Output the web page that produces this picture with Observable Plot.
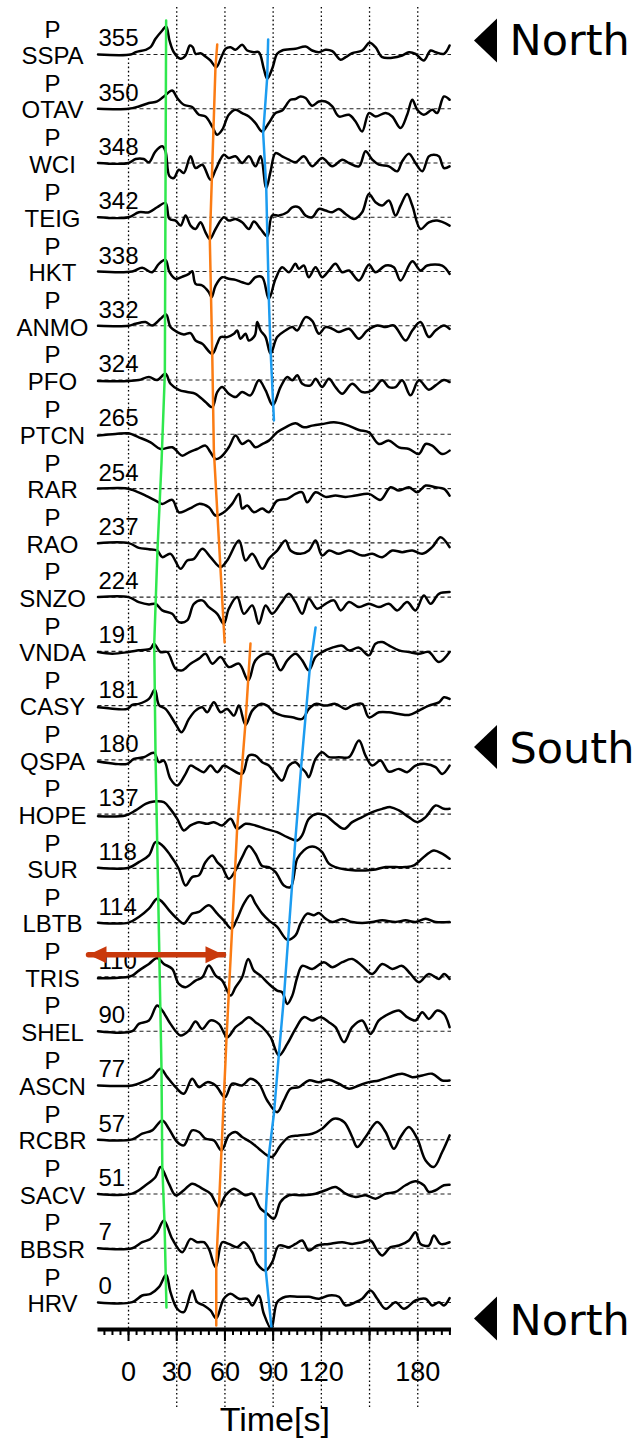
<!DOCTYPE html>
<html>
<head>
<meta charset="utf-8">
<script src="https://cdn.jsdelivr.net/npm/d3@7"></script>
<script src="https://cdn.jsdelivr.net/npm/@observablehq/plot@0.6"></script>
<style>
  html, body { margin: 0; padding: 0; background: #fff; }
  #chart svg { display: block; overflow: visible; }
</style>
</head>
<body>
<div id="chart"></div>
<script>
// ---------- data ----------
const stations = ["SSPA","OTAV","WCI","TEIG","HKT","ANMO","PFO","PTCN","RAR","RAO","SNZO","VNDA","CASY","QSPA","HOPE","SUR","LBTB","TRIS","SHEL","ASCN","RCBR","SACV","BBSR","HRV"];
const azimuths = [355,350,348,342,338,332,324,265,254,237,224,191,181,180,137,118,114,110,90,77,57,51,7,0];
const tickLabels = [0,30,60,90,120,180];
const majorTicks = [0,30,60,90,120,150,180];
const gridTimes = [30,60,90,120,150,180];

// traces: flat [time(s), amplitude, time, amplitude, ...]
const trSSPA = [-19,0,1.2,0,4.4,2.3,10.6,4.7,13.7,7.3,16.8,15.7,21,24,23.4,28,25.5,14,28.2,2.3,32.4,-4.3,35.5,-1,38.2,9,40,7.3,41.7,0.7,44.8,1.3,47.9,-2,51,-6,54.6,-12.7,57.9,-2,60.4,5.7,63.5,7.3,66.6,4.7,70.7,9.7,73.9,4,78,2.3,81.1,2.3,84.2,-14.3,86.3,-24.3,89.4,-14.3,92.5,0.7,95.6,4,103.9,5.7,110.2,8,114.3,4,118.5,2.3,122.6,4.7,126.8,3.3,132,-5.3,135.1,-2.7,139.2,1.3,145.4,4,150,11.7,153.7,7.3,157.9,-2.7,164.1,-3.3,170.3,-1,174.5,2.3,178.6,0.7,183.8,-6,188,4,191.1,2.3,196.3,0.7,199.8,9];
const trOTAV = [-19,0,0,0,6.4,2.3,12.7,5.7,17.8,7.3,22,12.3,27.2,18.3,30.3,10.7,34.4,4,39.6,1.7,43.8,-6,47.9,-7.7,52.1,-17.7,55.2,-26,58.3,-21,62.4,-6,66.6,-1,70.7,-4.3,74.9,-7.7,79,-14.3,83.2,-22.7,87.3,-14.3,91.5,-4.3,95.6,-1.7,100.8,9,103.9,9.7,107,12.3,110.2,10.7,114.3,3,118.5,7.3,122.6,7.3,126.8,2.3,130.9,-7.7,137.2,-6,141.3,-12.7,145.4,-22.7,149.6,-4.3,153.7,-7.7,160,-4.3,164.1,-7.7,169.3,-19.3,173.4,-6,176.6,9,179.7,-1,183.8,-6,189,-1,192.1,-4.3,196.3,12.3,199.8,9];
const trWCI = [-19,0,0,0,4.4,4,9.5,4,12.7,0.7,16.8,11.7,21,16.7,23,11.7,25.5,-13.3,28.2,-15,31.3,-6.7,34.4,-10,38.6,6.7,41.7,-5,45.9,-1.7,51,-16.7,54.2,-6.7,59.3,8.3,62.4,5,66.6,6.7,70.7,0,74.9,6.7,79,-3.3,82.2,6.7,85.7,-25,88.4,-8.3,91.5,10,95.6,6.7,99.8,3.3,103.9,0.7,109.1,6.7,114.3,-3.3,120.5,5,126.8,-3.3,133,3.3,137.2,0,143.4,-3.3,147.5,11.7,151.7,3.3,155.8,-1.7,162,-3.3,167.2,-8.3,170.3,1.7,174.5,9.3,178.6,0,182.8,-8.3,186.9,6.7,190,8.3,193.2,6.7,196.3,-5,199.8,-3.3];
const trTEIG = [-19,0,0,0,6.4,5,12.7,5,17.8,10,23,14.3,25.5,-1.7,29.3,-3.3,32.4,-8.3,35.5,1.7,38.6,-8.3,41.7,-11.7,44.8,-5,47.9,-15,50.6,-21.7,54.2,-11.7,59.3,0,62.4,-3.3,66.6,-1.7,70.7,-5,74.9,-11.7,78,-4.3,82.2,-11.7,86.3,-19,89.4,1.7,93.6,1.7,98.8,5,101.9,10,106,10,110.2,1.7,114.3,0,118.5,8.3,122.6,6.7,126.8,5,130.9,8.3,135.1,3.3,140.3,-1.7,145.4,5,149.6,23.3,153.7,15,157.9,11.7,162,16.7,166.2,1.7,169.3,11.7,173.4,23.3,176.6,11.7,181.7,-11.7,186.9,-5,192.1,-3.3,199.8,-8.3];
const trHKT = [-19,0,2.3,0,8.5,3.7,14.7,-0.7,18.9,7.7,23,11.7,25.5,-0.7,29.3,-7.3,33.8,-5,37.6,-2.3,39.6,0.3,41.7,-12.3,45.9,-14,50,-20.7,51.7,-25.7,54.2,-14,58.3,-5.7,62.4,-7.3,66.6,-8.3,70.7,-10.7,74.9,-12.3,79,-5.7,83.2,-5.7,87.3,-27.3,91.5,-7.3,95.6,4.3,99.8,-0.7,103.9,7.7,106,2.7,109.1,6,112.2,-5.7,116.4,4.3,120.5,-5.7,124.7,1,128.8,7.7,133,-0.7,137.2,1,143.4,-9,149.6,6.7,153.7,-0.7,160,6,165.1,4.3,169.3,-9,176.6,10.3,181.7,1,185.9,6,195.2,6,199.8,-2.3];
const trANMO = [-19,0,0,0,4.4,2,10.6,3.7,14.7,0.3,19.9,7,23.4,11.3,26.1,-1.3,30.3,-6.3,34.4,-8.7,38.6,-7.3,41.7,-14.7,45.9,-18,52.1,-28,55.2,-18,57.3,-11.3,61.4,-11.3,65.6,-8,67.6,-4.7,69.7,-13,72.8,-8,74.9,-14.7,78.6,-9.7,80.1,3.7,82.2,-4.7,85.3,-11.3,88.4,-28,92.5,-11.3,97.7,-4.7,101.9,-1.3,105,-4.7,110.2,8.7,114.3,5,118.5,-8,122.6,-1.3,126.8,-3,130.9,-6.3,137.2,-3,143.4,-13,148.6,-4.7,154.8,0.3,160,-1.3,165.1,0.3,172.4,-14.7,176.6,-4.7,181.7,3.7,186.9,-11.3,191.1,-4.7,196.3,0.3,199.8,-3];
const trPFO = [-19,-1,0,-1,6.4,0,12.7,3,17.8,0,23,6.3,26.1,-3.7,31.3,-9.7,36.5,-12,41.7,-13.7,47.9,-22,52.1,-27,55.2,-12,58.3,-7,62.4,-13.7,66.6,-17,70.7,-12,75.9,-15.3,81.1,-0.3,85.3,-10.3,89.8,-25.3,94.6,-7,98.8,3,101.9,-0.3,105,4.7,108.1,-3.7,113.3,-5.3,116.4,1.3,120.5,-7,124.7,1.3,128.8,-7,133,-13.7,139.2,-3.7,145.4,-12,151.7,-10.3,157.9,-0.3,162,-7,166.2,-7,170.3,-0.3,175.5,-15.3,180.7,-0.3,186.9,-9.7,191.1,-5.3,196.3,0,199.8,-2];
const trPTCN = [-19,-1.3,-8.1,0.3,0,1,6.4,-3,13.7,-8,19.9,-14.7,27.2,-13,33.4,-21.3,37.6,-18,42.7,-14.7,47.9,-11.3,51,-18,54.2,-24.7,57.3,-23,62.4,-13,66.6,-1.3,70.7,-9.7,74.9,-6.3,79,-13,83.2,-9.7,87.3,-6.3,92.5,2,97.7,7,103.9,11,109.1,7,114.3,8.7,120.5,10.3,127.8,12,135.1,9.7,143.4,4.3,149.6,2,155.8,-9.7,162,-6.3,168.3,-13,174.5,-14.7,180.7,-19.7,184.9,-9.7,189,-11.3,195.2,-19.7,199.8,-16.3];
const trRAR = [-19,0,-1.9,0.3,2.3,-1.3,10.6,-7,16.8,-12,21,-15.3,27.2,-11.3,31.3,-23.7,35.5,-22,39.6,-18.7,43.8,-15.3,50,-18.7,54.2,-27,59.3,-23.7,64.5,-15.3,68.7,-5.3,70.7,-20,73.9,-17,78,-23.7,83.2,-20,87.3,-23.7,92.5,-12,98.8,-10.3,103.9,-5.3,108.1,-3.7,111.2,-13.7,116.4,-3.7,122.6,-8.3,128.8,-7,135.1,-8.3,141.3,-7,149.6,-5.3,156.8,-11.3,163.1,1.3,168.3,-2,174.5,1.3,179.7,-3.7,184.9,3,191.1,1.3,196.3,-0.3,199.8,-7];
const trRAO = [-19,-0.3,0,-0.3,6.4,-5,12.7,-6.3,17.8,-7.7,21,-14.3,26.1,-11,32.4,-26,36.5,-17.7,40.7,-16,45.9,-6,51,-14.3,57.3,-24.3,61.4,-17.7,68.7,2.3,72.8,-17.7,77,-11,83.2,-26,87.3,-16,92.5,-7.7,97.7,2.3,100.8,-7.7,107,-11,112.2,-7.7,116.4,2.3,120.5,-12.7,124.7,-7.7,130.9,-11,137.2,-7.7,145.4,-12.7,151.7,-11,157.9,-14.3,164.1,-7.7,170.3,-9.3,176.6,-7.7,182.8,-11,189,-4.3,194.2,5.7,199.8,-4.3];
const trSNZO = [-19,0,0,0,6.4,-5,12.7,-7.3,16.8,-6.7,21,-13.3,27.2,-16.7,31.3,-25,36.5,-23.3,40.7,-6.7,45.9,-3.3,50,-10,55.2,-16.7,59.3,-26.7,62.4,-11.7,67.6,0,71.8,-16.7,77,-8.3,81.1,-26.7,85.3,-8.3,89.4,-16.7,94.6,-6.7,99.8,3.3,103.9,-5,108.1,-16.7,112.2,-1.7,117.4,-11.7,122.6,-6.7,127.8,-3.3,132,-13.3,137.2,-5,143.4,-10,149.6,-6.7,155.8,-10,162,-6.7,167.2,-13.3,173.4,-5,178.6,-13.3,183.8,1.7,188,-6.7,193.2,3.3,199.8,5];
const trVNDA = [-19,-0.7,-10.2,-2.3,0,-0.7,6.4,1,13.7,2.7,15.8,7.7,19.9,-0.7,24.1,-0.7,29.3,-17.3,33.4,-19,38.6,-12.3,43.8,-7.3,47.9,-2.3,52.1,-12.3,57.3,-5.7,62.4,-15.7,68.7,-12.3,74.5,-29,79,-9,85.3,-2.3,89.4,-4,94.6,-19,98.8,-9,103.9,-2.3,108.1,-9,112.2,-19,116.4,-5.7,120.5,-0.7,126.8,3.7,133,5.7,137.2,1,143.4,3.7,149.6,-4,153.7,7.7,157.9,9.3,162,6,168.3,1,174.5,-0.7,180.7,-2.3,186.9,-0.7,193.2,-10.7,199.8,-0.7];
const trCASY = [-19,-1.7,-8.1,-3.3,-0.8,-3.3,2.3,0.7,6.4,1.7,12.7,6.7,16.4,16,18.9,0.7,23,-3.3,29.3,-18.3,33,-26.7,37.6,-13.3,41.7,-5,45.9,-1.7,49,-6.7,53.1,3.3,57.3,-6.7,61.4,-3.3,65.6,-10,68.7,0,72.8,-19.3,77,-5,82.2,1.7,86.3,0,90.5,-6.7,95.6,-10,101.9,-11.7,108.1,-13.3,112.2,-3.3,116.4,1.7,122.6,0,128.8,1.7,135.1,-3.3,139.2,0,145.4,1.7,149.6,-11.7,155.8,-6.7,162,-6.7,168.3,-8.3,174.5,-9.3,180.7,-5,186.9,0,193.2,3.3,196.3,8.3,199.8,6.7];
const trQSPA = [-19,-1.7,-8.1,-4,-0.8,-4,3.3,1,9.5,2.7,15.8,7,18.9,-2.3,22,-0.7,26.1,-19,30.3,-25.7,35.5,-14,38.6,-5.7,42.7,-9,46.9,-12.3,51,-5.7,55.2,-12.3,59.3,-5.7,63.5,-9,70.7,-14,74.9,4.3,79,4.3,83.2,-2.3,87.3,-5.7,91.5,-14,95.6,-20.7,99.8,-5.7,103.9,-2.3,107,-7.3,110.2,-12.3,112.2,-17.3,116.4,1,120.5,7.7,124.7,2.7,130.9,2.7,137.2,2.7,143.4,19.3,147.5,4.3,151.7,-5.7,156.8,-0.7,162,-11.7,168.3,-9,173.4,-12.3,178.6,-5.7,184.9,-4,191.1,-7.3,195.2,-14,199.8,-5.7];
const trHOPE = [-19,-2,-1.9,-1.3,4.4,3.7,10.6,10.3,15.8,12.7,22,12,26.1,5,30.3,-4.7,34.4,-16.3,38.6,-11.3,43.8,-8,48.9,-9.7,53.1,-8,58.3,-11.3,63.5,-4.7,67.6,-14.7,72.8,-9.7,79,-11.3,85.3,-14.7,92.5,-18,98.8,-23,105,-26.3,108.1,-21,112.2,-4.7,117.4,0.3,122.6,-1.3,127.8,-8,134.1,-14.7,139.2,-8,145.4,-3,151.7,2,157.9,5.3,163.1,7,168.3,3.7,174.5,-3,179.7,-8,184.9,-3,191.1,8.7,196.3,5.3,199.8,5.3];
const trSUR = [-19,0.7,0,0.7,6.4,6.3,12.7,13,16.8,26.3,21,23,26.1,13,31.3,-0.3,35.5,-17,39.6,-8.7,43.8,-7,47.9,6.3,52.1,13,55.2,6.3,58.3,1.3,62.4,-10.3,66.6,-2,70.7,11.3,74.9,22.3,79,14.7,83.2,2.3,87.3,1.3,91.5,-3.7,96.7,-17,100.8,-18.7,105,9.7,109.1,18,112.2,21.3,116.4,21.3,120.5,16.3,124.7,4.7,128.8,1.3,135.1,-1,141.3,-2,147.5,-2,153.7,-1,160,1.3,166.2,1.3,172.4,1.3,177.6,3,184.9,13,190,18,195.2,14.7,199.8,9.7];
const trLBTB = [-19,0,0,0,6.4,5.7,12.7,14,17.8,24,21,20.7,26.1,10.7,31.3,2.3,34.4,-1,39.6,9,43.8,10.7,50,17.3,55.2,9,59.3,2.3,64.1,-6,67.6,4,71.8,19,75.9,27.3,79,19,83.2,9,87.3,2.3,92.5,-4.3,98.8,-17,103.9,-12.7,107,-1,111.2,9,115.4,7.3,118.5,9.7,122.6,4,126.8,0.7,133,3.7,139.2,0.7,145.4,-0.3,151.7,0.7,157.9,2.3,166.2,0.7,172.4,2.3,178.6,0.7,184.9,4,191.1,0.7,199.8,0.7];
const trTRIS = [-19,-1.3,-1.9,-0.3,2.3,1.3,6.4,6.3,12.7,13,17.8,19,22,13,27.2,8,31.3,-7,35.5,-10.3,41.7,-3.7,45.9,-0.3,50,11.3,54.2,1.3,58.3,-3.7,63.5,-18.7,66.6,-10.3,70.7,-0.3,74.5,18,78,6.3,82.2,1.3,87.3,-7,92.5,-13.7,95.6,-15.3,98.8,-27,101.9,-18.7,105,-0.3,108.1,11,114.3,8,121.6,14.7,126.8,9.7,133,14.7,139.2,18,145.4,11,151.7,3,157.9,13,164.1,8,170.3,11,175.5,3,180.7,-5.3,186.9,3,193.2,-2,196.3,3,199.8,-2];
const trSHEL = [-19,0,2.3,0,6.4,7.3,12.7,10.7,17.8,25.7,21,20.7,26.1,7.3,32.4,-4.3,37.6,0.7,41.7,9.7,45.9,2.3,51,10.7,56.2,7.3,61.4,-6,66.6,4,70.7,9,74.9,14,79,9,83.2,4,88.4,-6,93.6,-24.3,98.8,-12.7,103.9,2.3,109.1,14,114.3,10.7,119.5,14,124.7,9,128.8,4,134.1,-11,139.2,4,145.4,10.7,150.6,-2.7,155.8,10.7,162,17.3,168.3,20.7,173.4,14,178.6,10.7,182.8,19,186.9,12.3,192.1,20.7,196.3,17.3,199.8,4];
const trASCN = [-19,0,2.3,0,8.5,3.3,14.7,8.3,19.9,16.7,24.1,8.3,29.3,-1.7,34.4,-8.3,39.6,6.7,43.8,-1.7,49,3.3,54.2,0,60,-11.7,64.5,1.7,70.7,0,75.9,6.7,81.1,1.7,86.3,-15,92.5,-26.7,96.7,-15,100.8,-3.3,106,-1.7,112.2,5,118.5,3.3,124.7,5.7,130.9,1.7,137.2,-3.3,143.4,0,149.6,3.3,155.8,5,162,8.3,170.3,11.7,176.6,8.3,182.8,10,189,11.7,195.2,5,199.8,5];
const trRCBR = [-19,0,2.3,0.3,8.5,6,14.7,9.3,21,19.3,25.1,11,30.3,-2.3,34.4,-5.7,39.6,9.3,43.8,7.7,47.9,1,53.1,-0.7,57.9,-10.7,62.4,4.3,66.6,7.7,70.7,2.7,75.9,-2.3,81.1,-9,86.3,-15.7,89.4,-17.3,94.6,-5.7,99.8,2.7,106,4.3,114.3,6,120.5,11,127.8,21,134.1,17.7,139.2,2.7,142.3,-7.3,147.5,2.7,154.8,17.7,160,7.7,165.1,-9,169.3,2.7,174.5,12.7,179.7,1,184.9,-20.7,190,-27.3,195.2,-12.3,199.8,4.3];
const trSACV = [-19,0,2.3,0.3,10.6,8.7,16.8,17,19.9,27,25.1,10.3,29.3,-1.3,34.4,3.7,39.6,10.3,45.9,5.3,51,0.3,56.2,-13,60.4,-1.3,65.6,5.3,72.8,-1.3,77,0.3,82.2,-14.7,86.3,-19.7,90.5,-24.7,94.6,-8,99.8,-1.3,108.1,-1.3,116.4,0.3,122.6,3.7,128.8,7,135.1,0.3,141.3,-3,147.5,-1.3,153.7,-4.7,160,0.3,166.2,2,172.4,8.7,178.6,12.7,183.8,8.7,186.9,2,191.1,3.7,196.3,8.7,199.8,9.3];
const trBBSR = [-19,0,2.3,0,8.5,6,13.7,9.3,17.8,16,22,27.7,27.2,9.3,33.4,-4,38.6,9.3,42.7,6,46.9,6,50,-0.7,54.2,-19,58.3,6,62.4,4.3,67.6,1,71.8,6,77,-4,80.1,-15.7,85.3,-22.3,89.4,-14,93.6,2.7,99.8,1,103.9,4.3,108.1,7.7,112.2,-2.3,117.4,2.7,124.7,4.3,133,6,139.2,4.3,145.4,6,150.6,7.7,154.8,-2.3,157.9,-7.3,163.1,1,168.3,2.7,174.5,7.7,178.6,16,181.7,4.3,186.9,2.7,190,12.7,194.2,4.3,199.8,6];
const trHRV = [-19,0,2.3,0.3,8.5,7,13.7,8.7,18.9,15.3,23.4,27.7,26.1,10.3,30.3,-6.3,34.4,-9.7,39.6,12,42.7,0.3,46.9,-3,51,-8,54.6,-15.7,59.3,3.7,63.5,8.7,68.7,3.7,73.9,3.7,77,-3,81.1,7,84.2,-11.3,88.8,-26.3,92.5,0.3,97.7,5.7,106,5.7,112.2,5.7,118.5,3.7,124.7,7,130.9,5.7,135.1,-3,141.3,0.3,145.4,3.7,150.6,12,154.8,3.7,160,-6.3,166.2,0.3,171.4,-6.3,178.6,2,184.9,3.7,189,-3,193.2,0.3,196.3,-3,199.8,4.3];
const traceValues = [trSSPA,trOTAV,trWCI,trTEIG,trHKT,trANMO,trPFO,trPTCN,trRAR,trRAO,trSNZO,trVNDA,trCASY,trQSPA,trHOPE,trSUR,trLBTB,trTRIS,trSHEL,trASCN,trRCBR,trSACV,trBBSR,trHRV];

// phase pick lines: row position (station index, fractional) and time (s)
const greenRows = [-0.627,5.879,7.538,9.141,10.855,12.919,15.555,18.669,20.475,21.526,23.092];
const greenTimes = [23.4,22.6,20.5,18.0,16.0,16.8,18.5,20.5,21.0,22.4,23.6];
const orangeRows1 = [-0.184,0.240,3.428,5.511,7.298,10.837];
const orangeTimes1 = [55.2,54.1,50.6,52.1,53.1,59.8];
const orangeRows2 = [10.855,12.311,14.265,16.089,18.117,20.162,22.319,23.424];
const orangeTimes2 = [75.9,72.8,67.6,64.5,61.0,57.9,54.6,54.6];
const blueRows1 = [-0.276,0.424,1.456,2.451,4.478,5.455,6.745];
const blueTimes1 = [86.9,86.3,83.8,85.7,87.3,88.4,90.5];
const blueRows2 = [10.560,11.353,13.104,14.449,16.274,17.379,18.412,19.517,20.291,21.397,22.374,23.480];
const blueTimes2 = [116.4,112.7,107.5,103.9,99.4,96.7,93.6,90.5,87.3,85.3,85.3,89.0];

// red double arrow: time span and row
const arrowTimes = [-24.9, 59.1];
const arrowRow = 16.59;

// direction annotations
const directionLabels = ["North","South","North"];
const directionStations = ["SSPA","QSPA","HRV"];

// ---------- build ----------
const SP = 54.26; // trace spacing in amplitude units
const rowY = r => -r * SP;

const traceData = traceValues.flatMap((arr, i) => {
  const out = [];
  for (let k = 0; k < arr.length; k += 2) out.push({station: stations[i], t: arr[k], y: rowY(i) + arr[k + 1]});
  return out;
});
const pick = (rows, times, seg) => rows.map((r, k) => ({t: times[k], y: rowY(r), seg}));
const green = pick(greenRows, greenTimes, "g");
const orange = [...pick(orangeRows1, orangeTimes1, "o1"), ...pick(orangeRows2, orangeTimes2, "o2")];
const blue = [...pick(blueRows1, blueTimes1, "b1"), ...pick(blueRows2, blueTimes2, "b2")];

const rows = stations.map((s, i) => ({station: s, az: azimuths[i], y: rowY(i)}));

const triLeft = {draw(c) { c.moveTo(-11.5, 0); c.lineTo(11.5, -22); c.lineTo(11.5, 22); c.closePath(); }};
const headLeft = {draw(c) { c.moveTo(0, 0); c.lineTo(18, -8.5); c.lineTo(18, 8.5); c.closePath(); }};
const headRight = {draw(c) { c.moveTo(0, 0); c.lineTo(-18, -8.5); c.lineTo(-18, 8.5); c.closePath(); }};

const font = "'Liberation Sans', Arial, Helvetica, sans-serif";
const dirFont = "'DejaVu Sans', Verdana, sans-serif";
const dirDy = [{tri: -14, txt: -12.8}, {tri: -13, txt: -10.2}, {tri: 16, txt: 19.2}];

const yBottom = -1275, yTop = 54;
const arrowY = rowY(arrowRow);
const redColor = "#c9390c";

const dirMarks = directionLabels.flatMap((lab, k) => {
  const yy = rowY(stations.indexOf(directionStations[k]));
  return [
    Plot.dot([yy], {y: d => d, frameAnchor: "right", dx: 34, dy: dirDy[k].tri, symbol: triLeft, r: 5, fill: "#000", stroke: "none"}),
    Plot.text([lab], {y: () => yy, text: d => d, frameAnchor: "right", dx: 58, dy: dirDy[k].txt, textAnchor: "start", fontSize: 43, fontFamily: dirFont, fill: "#000"})
  ];
});

const chart = Plot.plot({
  width: 636,
  height: 1448,
  marginLeft: 97.5,
  marginRight: 185,
  marginTop: 0,
  marginBottom: 119,
  style: {fontFamily: font, background: "#fff", color: "#000"},
  x: {domain: [-19, 201]},
  y: {domain: [yBottom, yTop], axis: null},
  marks: [
    // dotted vertical gridlines
    Plot.ruleX(gridTimes, {y1: 47, y2: -1353, stroke: "#000", strokeWidth: 1.3, strokeDasharray: "1.6,2.6"}),
    Plot.ruleX([0], {y1: 0, y2: yBottom, stroke: "#000", strokeWidth: 1.3, strokeDasharray: "1.6,2.6"}),
    // dashed baselines
    Plot.ruleY(rows, {y: "y", x1: -19, x2: 201, stroke: "#222", strokeWidth: 1.1, strokeDasharray: "4,3"}),
    // seismograms
    Plot.line(traceData, {x: "t", y: "y", z: "station", stroke: "#000", strokeWidth: 2.5, strokeLinejoin: "round", curve: "catmull-rom"}),
    // phase picks
    Plot.line(green, {x: "t", y: "y", z: "seg", stroke: "#2fe84e", strokeWidth: 2.5}),
    Plot.line(orange, {x: "t", y: "y", z: "seg", stroke: "#fb7c14", strokeWidth: 2.5}),
    Plot.line(blue, {x: "t", y: "y", z: "seg", stroke: "#1c9cf0", strokeWidth: 2.5}),
    // axis line and ticks
    Plot.ruleY([yBottom], {x1: -19, x2: 201, stroke: "#000", strokeWidth: 4}),
    Plot.axisX(d3.range(-15, 201, 5), {tickSize: 6, strokeWidth: 2, tickFormat: () => "", label: null}),
    Plot.axisX(majorTicks, {tickSize: 12, strokeWidth: 2, tickFormat: () => "", label: null}),
    Plot.axisX(tickLabels, {tickSize: 0, tickPadding: 32, fontSize: 27, label: null, tickFormat: d => String(d)}),
    Plot.text(["Time[s]"], {frameAnchor: "bottom", dy: 101, fontSize: 34, fill: "#000"}),
    // station labels
    Plot.text(rows, {y: "y", text: d => "P\n" + d.station, frameAnchor: "left", dx: -45.5, dy: -12, textAnchor: "middle", lineHeight: 1.104, fontSize: 24, fill: "#000"}),
    Plot.text(rows, {y: "y", text: d => String(d.az), frameAnchor: "left", dx: 0.5, dy: -15.7, textAnchor: "start", fontSize: 24, fill: "#000"}),
    // red double arrow
    Plot.line(arrowTimes.map(t => ({t, y: arrowY})), {x: "t", y: "y", stroke: redColor, strokeWidth: 5.5}),
    Plot.dot([arrowTimes[0]], {x: d => d, y: () => arrowY, symbol: headLeft, r: 5, fill: redColor, stroke: "none"}),
    Plot.dot([arrowTimes[1]], {x: d => d, y: () => arrowY, symbol: headRight, r: 5, fill: redColor, stroke: "none"}),
    // direction annotations
    ...dirMarks
  ]
});
document.getElementById("chart").appendChild(chart);
</script>
</body>
</html>
